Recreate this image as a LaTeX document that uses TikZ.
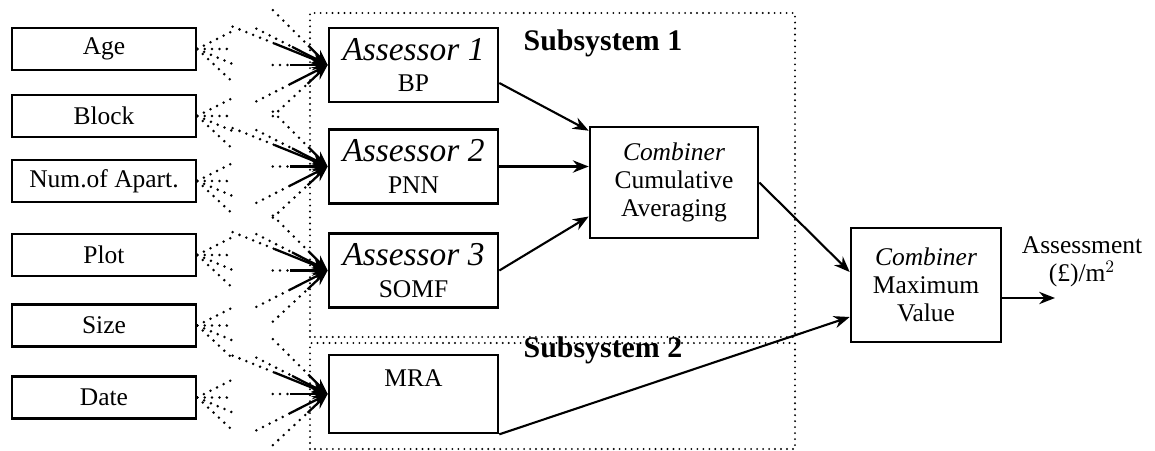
\documentclass[tikz,border=0pt]{standalone}
\usepackage{fontspec}
\setmainfont{Liberation Serif}
\usetikzlibrary{arrows.meta,calc}

\tikzset{
  inbox/.style={draw, line width=1.5pt, minimum width=3.68cm, minimum height=0.84cm,
    font=\fontsize{14.5}{16}\selectfont},
  modbox/.style={draw, line width=1.5pt, minimum width=3.38cm, minimum height=1.48cm,
    align=center, inner sep=1pt, font=\fontsize{14.5}{18}\selectfont},
  combox/.style={draw, line width=1.5pt, align=center, font=\fontsize{14.5}{16}\selectfont},
  dots/.style={line width=1.6pt, dash pattern=on 0pt off 4.2pt, line cap=round},
  frame/.style={line width=1.2pt, dash pattern=on 0pt off 3.4pt, line cap=round},
  link/.style={line width=1.2pt, -{Stealth[length=9pt,width=7pt]}},
  subtitle/.style={font=\fontsize{17}{18}\selectfont\bfseries},
}

% dotted stubs leaving an input box
\newcommand{\fanout}[1]{%
  \foreach \a/\l in {27/0.8, 0/0.62, -23/0.8, -43/1.03}
    \draw[dots] (#1.east) -- ++(\a:\l);
}
% dotted lines with solid heads arriving at a model box
\newcommand{\fanin}[1]{%
  \foreach \a/\l/\s in {135/1.55/0.55, 158/2.05/1.15, 153/1.6/0.8, 180/1.1/0.75, 207/1.6/0.85, 223/1.5/0.55} {
    \draw[dots] ($(#1.west)+(\a:\l)$) -- ($(#1.west)+(\a:\s)$);
    \draw[line width=1.3pt, -{Stealth[length=9pt,width=6pt]}] ($(#1.west)+(\a:\s)$) -- (#1.west);
  }
}

\begin{document}
\begin{tikzpicture}
\useasboundingbox (0,0) rectangle (23.1,9);

% subsystem frames
\draw[frame] (6.2,2.26) rectangle (15.9,8.74);
\draw[frame] (6.2,0.02) rectangle (15.9,2.14);
\node[subtitle] (sub1) at (12.06,8.14) {Subsystem 1};
\node[subtitle] (sub2) at (12.06,2.0) {Subsystem 2};

% inputs
\node[inbox] (age)   at (2.08,8.02) {Age};
\node[inbox] (block) at (2.08,6.68) {Block};
\node[inbox] (apart) at (2.08,5.38) {Num.of Apart.};
\node[inbox] (plot)  at (2.08,3.90) {Plot};
\node[inbox] (size)  at (2.08,2.49) {Size};
\node[inbox] (date)  at (2.08,1.05) {Date};

% assessors
\node[modbox] (bp)   at (8.27,7.70) {{\fontsize{19}{19}\selectfont\itshape Assessor 1}\\BP};
\node[modbox] (pnn)  at (8.27,5.67) {{\fontsize{19}{19}\selectfont\itshape Assessor 2}\\PNN};
\node[modbox] (somf) at (8.27,3.59) {{\fontsize{19}{19}\selectfont\itshape Assessor 3}\\SOMF};
\node[modbox, minimum height=1.56cm] (mra) at (8.27,1.12) {};
\node[font=\fontsize{14.5}{16}\selectfont, anchor=north] (mralab) at ([yshift=-0.2cm]mra.north) {MRA};

% combiners
\node[combox, minimum width=3.36cm, minimum height=2.22cm] (avg) at (13.48,5.35)
  {\textit{Combiner}\\Cumulative\\Averaging};
\node[combox, minimum width=3.0cm, minimum height=2.28cm] (max) at (18.52,3.30)
  {\textit{Combiner}\\Maximum\\Value};

\coordinate (res) at (21.1,3.04);
\node[font=\fontsize{14.5}{16}\selectfont, align=center] (assess) at (21.64,3.76) {Assessment\\(£)/m$^2$};

% input fans
\foreach \n in {age,block,apart,plot,size,date} \fanout{\n};
\foreach \n in {bp,pnn,somf,mra} \fanin{\n};

% connections
\draw[link] ([yshift=-0.36cm]bp.east) -- ([yshift=-0.1cm]avg.north west);
\draw[link] (pnn.east) -- (pnn.east -| avg.west);
\draw[link] (somf.east) -- ([yshift=-0.68cm]avg.west);
\draw[link] (avg.east) -- ([yshift=0.26cm]max.west);
\draw[link] (mra.south east) -- ([yshift=-0.64cm]max.west);
\draw[link] (max.east |- res) -- (res);
\end{tikzpicture}
\end{document}
